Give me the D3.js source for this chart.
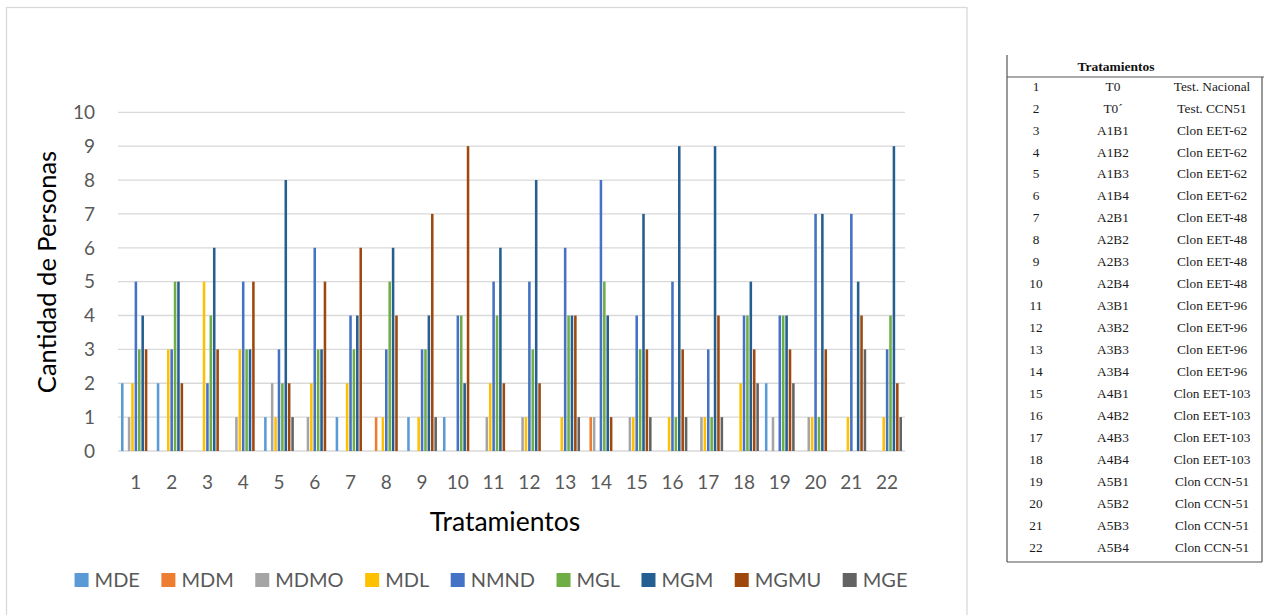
<!DOCTYPE html>
<html>
<head>
<meta charset="utf-8">
<script src="https://cdn.jsdelivr.net/npm/d3@7"></script>
<style>
  html, body { margin: 0; padding: 0; background: #fff; }
  svg { display: block; }
</style>
</head>
<body>
<svg id="chart" width="1264" height="615"></svg>
<script>
// Treatments on the x axis
const categories = ["1","2","3","4","5","6","7","8","9","10","11","12","13","14","15","16","17","18","19","20","21","22"];
const seriesNames = ["MDE","MDM","MDMO","MDL","NMND","MGL","MGM","MGMU","MGE"];
const seriesColors = ["#5B9BD5","#ED7D31","#A5A5A5","#FFC000","#4472C4","#70AD47","#255E91","#9E480E","#636363"];

// Number of people per treatment, one array per category of response
const MDE  = [2,2,0,0,1,0,1,0,1,1,0,0,0,0,0,0,0,0,2,0,0,0];
const MDM  = [0,0,0,0,0,0,0,1,0,0,0,0,0,1,0,0,0,0,0,0,0,0];
const MDMO = [1,0,0,1,2,1,0,0,0,0,1,1,0,1,1,0,1,0,1,1,0,0];
const MDL  = [2,3,5,3,1,2,2,1,1,0,2,1,1,0,1,1,1,2,0,1,1,1];
const NMND = [5,3,2,5,3,6,4,3,3,4,5,5,6,8,4,5,3,4,4,7,7,3];
const MGL  = [3,5,4,3,2,3,3,5,3,4,4,3,4,5,3,1,1,4,4,1,0,4];
const MGM  = [4,5,6,3,8,3,4,6,4,2,6,8,4,4,7,9,9,5,4,7,5,9];
const MGMU = [3,2,3,5,2,5,6,4,7,9,2,2,4,1,3,3,4,3,3,3,4,2];
const MGE  = [0,0,0,0,1,0,0,0,1,0,0,0,1,0,1,1,1,2,2,0,3,1];
const seriesValues = [MDE, MDM, MDMO, MDL, NMND, MGL, MGM, MGMU, MGE];

const yTicks = [0,1,2,3,4,5,6,7,8,9,10];

// Side table of treatments
const tableNums  = categories;
const tableCodes = ["T0","T0\u00b4","A1B1","A1B2","A1B3","A1B4","A2B1","A2B2","A2B3","A2B4","A3B1","A3B2","A3B3","A3B4","A4B1","A4B2","A4B3","A4B4","A5B1","A5B2","A5B3","A5B4"];
const tableNames = ["Test. Nacional","Test. CCN51","Clon EET-62","Clon EET-62","Clon EET-62","Clon EET-62","Clon EET-48","Clon EET-48","Clon EET-48","Clon EET-48","Clon EET-96","Clon EET-96","Clon EET-96","Clon EET-96","Clon EET-103","Clon EET-103","Clon EET-103","Clon EET-103","Clon CCN-51","Clon CCN-51","Clon CCN-51","Clon CCN-51"];

const svg = d3.select("#chart");
const font = "Lato, 'Open Sans', sans-serif";

// Chart frame
svg.append("rect")
  .attr("x", 6.5).attr("y", 7.5).attr("width", 960.5).attr("height", 640)
  .attr("fill", "none").attr("stroke", "#d9d9d9").attr("stroke-width", 1.3);

const plot = { left: 118, right: 905, top: 112.3, bottom: 451 };

const x0 = d3.scaleBand().domain(categories).range([plot.left, plot.right]).padding(0);
const x1 = d3.scaleBand().domain(seriesNames).range([0, x0.bandwidth()])
  .paddingInner(0.25).paddingOuter(0.885);
const y = d3.scaleLinear().domain([0, 10]).range([plot.bottom, plot.top]);
const color = d3.scaleOrdinal().domain(seriesNames).range(seriesColors);

// Horizontal gridlines
svg.append("g").selectAll("line").data(yTicks).join("line")
  .attr("x1", plot.left).attr("x2", plot.right)
  .attr("y1", d => y(d)).attr("y2", d => y(d))
  .attr("stroke", "#d9d9d9").attr("stroke-width", 1.3);

// Y tick labels
svg.append("g").selectAll("text").data(yTicks).join("text")
  .attr("x", 95).attr("y", d => y(d)).attr("dy", "0.36em")
  .attr("text-anchor", "end")
  .attr("font-family", font).attr("font-size", 19).attr("fill", "#595959")
  .text(d => d);

// X tick labels
svg.append("g").selectAll("text").data(categories).join("text")
  .attr("x", d => x0(d) + x0.bandwidth() / 2).attr("y", 482).attr("dy", "0.36em")
  .attr("text-anchor", "middle")
  .attr("font-family", font).attr("font-size", 19).attr("fill", "#595959")
  .text(d => d);

// Bars
const rows = categories.map((c, i) => ({
  cat: c,
  vals: seriesNames.map((s, j) => ({ key: s, value: seriesValues[j][i] }))
}));
svg.append("g").selectAll("g").data(rows).join("g")
  .attr("transform", d => `translate(${x0(d.cat)},0)`)
  .selectAll("rect").data(d => d.vals.filter(v => v.value > 0)).join("rect")
  .attr("x", d => x1(d.key)).attr("width", x1.bandwidth())
  .attr("y", d => y(d.value)).attr("height", d => y(0) - y(d.value))
  .attr("fill", d => color(d.key));

// Axis titles
svg.append("text")
  .attr("x", 505).attr("y", 531)
  .attr("text-anchor", "middle")
  .attr("font-family", font).attr("font-size", 26.5).attr("fill", "#000")
  .text("Tratamientos");
svg.append("text")
  .attr("transform", "translate(56,272) rotate(-90)")
  .attr("text-anchor", "middle")
  .attr("font-family", font).attr("font-size", 25.5).attr("fill", "#000")
  .text("Cantidad de Personas");

// Legend
const legend = svg.append("g");
let lx = 0;
const itemGap = 21.5;
seriesNames.forEach((s, i) => {
  const g = legend.append("g").attr("transform", `translate(${lx},0)`);
  g.append("rect").attr("x", 0).attr("y", -7).attr("width", 14).attr("height", 14)
    .attr("fill", color(s));
  const t = g.append("text").attr("x", 20).attr("y", 0).attr("dy", "0.36em")
    .attr("font-family", font).attr("font-size", 20).attr("fill", "#595959")
    .text(s);
  lx += 20 + t.node().getComputedTextLength() + itemGap;
});
const legendWidth = lx - itemGap;
legend.attr("transform", `translate(${491 - legendWidth / 2},580)`);

// Treatments table
const tbl = svg.append("g");
const serif = "'Liberation Serif', 'Times New Roman', serif";
const tTop = 55, tHead = 77, tBottom = 562, tLeft = 1007, tRight = 1262;
tbl.append("line").attr("x1", tLeft).attr("x2", tLeft).attr("y1", tTop).attr("y2", tBottom)
  .attr("stroke", "#555").attr("stroke-width", 1.2);
tbl.append("line").attr("x1", tLeft).attr("x2", 1264).attr("y1", tHead).attr("y2", tHead)
  .attr("stroke", "#555").attr("stroke-width", 1.2);
tbl.append("line").attr("x1", tLeft).attr("x2", tRight).attr("y1", tBottom).attr("y2", tBottom)
  .attr("stroke", "#555").attr("stroke-width", 1.2);
tbl.append("line").attr("x1", tRight).attr("x2", tRight).attr("y1", tHead).attr("y2", tBottom)
  .attr("stroke", "#555").attr("stroke-width", 1.2);
tbl.append("text").attr("x", 1116).attr("y", 66).attr("dy", "0.35em")
  .attr("text-anchor", "middle").attr("font-family", serif).attr("font-weight", "bold")
  .attr("font-size", 13.5).attr("fill", "#111").text("Tratamientos");

const rowY = d3.scalePoint().domain(tableNums).range([86, 547]);
const cols = [
  { x: 1036, data: tableNums },
  { x: 1113, data: tableCodes },
  { x: 1212, data: tableNames }
];
cols.forEach(col => {
  tbl.append("g").selectAll("text").data(col.data).join("text")
    .attr("x", col.x).attr("y", (d, i) => rowY(tableNums[i])).attr("dy", "0.35em")
    .attr("text-anchor", "middle").attr("font-family", serif)
    .attr("font-size", 13.3).attr("fill", "#1a1a1a")
    .text(d => d);
});
</script>
</body>
</html>
